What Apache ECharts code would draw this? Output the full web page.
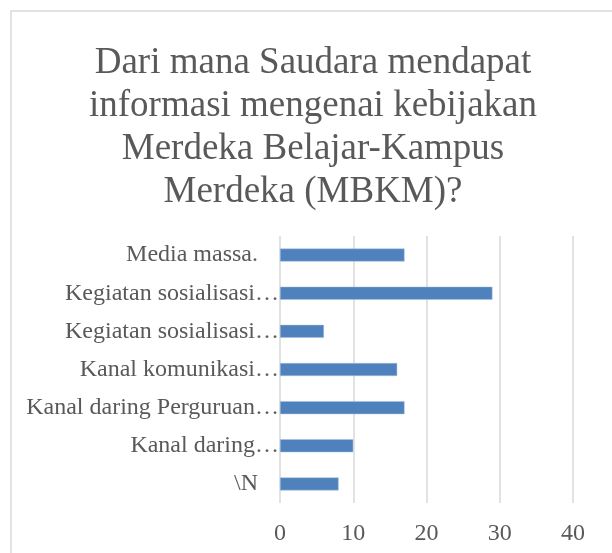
<!DOCTYPE html>
<html lang="id">
<head>
    <meta charset="UTF-8">
    <title>MBKM</title>
    <script src="https://cdn.jsdelivr.net/npm/echarts@6/dist/echarts.min.js"></script>
</head>
<body style="margin:0;background:#fff;">
<div id="main" style="width: 612px;height:553px;"></div>
<script>
    // data, top to bottom as in the picture
    let categories = ['Media massa.', 'Kegiatan sosialisasi…', 'Kegiatan sosialisasi…', 'Kanal komunikasi…',
        'Kanal daring Perguruan…', 'Kanal daring…', '\\N'];
    let counts = [17, 29, 6, 16, 17, 10, 8];
    let tickValues = [0, 10, 20, 30, 40];

    let titleText = 'Dari mana Saudara mendapat\ninformasi mengenai kebijakan\nMerdeka Belajar-Kampus\nMerdeka (MBKM)?';
    let font = 'Liberation Serif, Times New Roman, serif';

    let chart = echarts.init(document.getElementById('main'));
    let option = {
        backgroundColor: '#fff',
        animation: false,
        graphic: [{
            type: 'rect',
            shape: {x: 11, y: 11, width: 620, height: 560},
            style: {fill: 'none', stroke: '#D9D9D9', lineWidth: 1.5},
            silent: true
        }],
        title: {
            text: titleText,
            left: 308,
            top: 37,
            textAlign: 'center',
            textStyle: {
                fontFamily: font,
                fontSize: 37,
                fontWeight: 'normal',
                color: '#595959',
                lineHeight: 43
            }
        },
        grid: {left: 280, right: 39, top: 236, bottom: 50},
        xAxis: {
            type: 'value',
            min: tickValues[0],
            max: tickValues[tickValues.length - 1],
            interval: 10,
            axisLine: {show: false},
            axisTick: {show: false},
            splitLine: {lineStyle: {color: '#D9D9D9', width: 1.5}},
            axisLabel: {
                margin: 19,
                fontFamily: font,
                fontSize: 24,
                color: '#595959'
            }
        },
        yAxis: {
            type: 'category',
            inverse: true,
            data: categories,
            axisLine: {show: false},
            axisTick: {show: false},
            axisLabel: {
                margin: 1,
                fontFamily: font,
                fontSize: 24,
                color: '#595959',
                formatter: function (v) {
                    return v.endsWith('…') ? v : v + '{g|}';
                },
                rich: {
                    g: {width: 21}
                }
            }
        },
        series: [{
            type: 'bar',
            data: counts,
            barWidth: 13,
            itemStyle: {color: '#4F81BD', borderColor: '#A9C0DE', borderWidth: 0.5}
        }]
    };
    chart.setOption(option);
</script>
</body>
</html>
